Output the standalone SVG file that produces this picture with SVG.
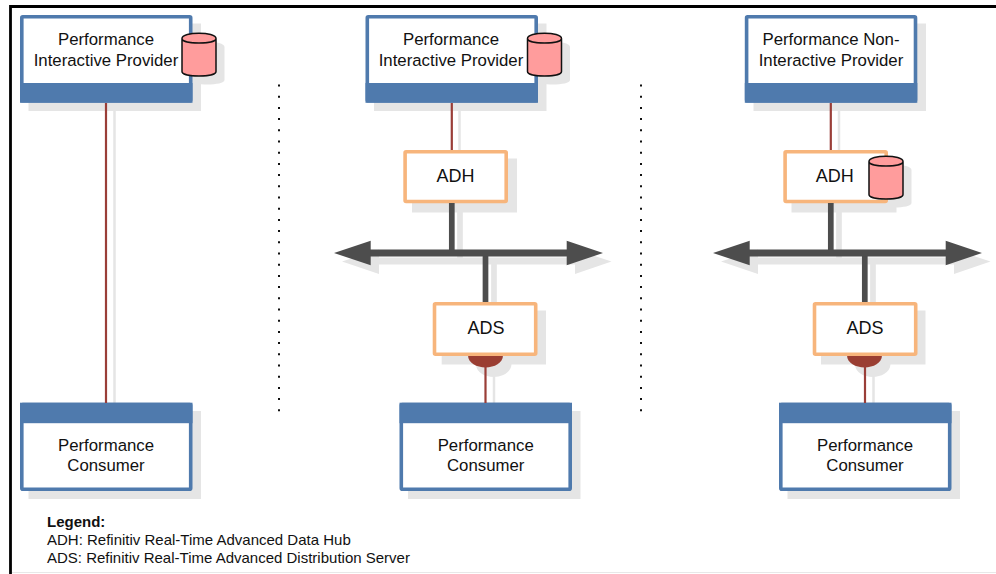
<svg xmlns="http://www.w3.org/2000/svg" width="996" height="574" viewBox="0 0 996 574">
<style>
text{font-family:"Liberation Sans",Arial,sans-serif;font-size:16.800px;fill:#111;text-anchor:middle}
.sh{fill:#e5e5e5}
.blue{fill:#fff;stroke:#4f7aad;stroke-width:3.600}
.band{fill:#4f7aad}
.or{fill:#fff;stroke:#f7b57c;stroke-width:3.600}
.thin{stroke:#9a3e38;stroke-width:2.200;fill:none}
.thinsh{stroke:#e5e5e5;stroke-width:2.500;fill:none}
.bus{stroke:#4d4d4d;fill:none}
.bussh{stroke:#e5e5e5;fill:none}
.head{fill:#4d4d4d}
.headsh{fill:#e5e5e5}
.cup{fill:#9a3e32}
.dots{stroke:#111;stroke-width:2;stroke-dasharray:2 9.200;fill:none}
.db{fill:#ff9c9c;stroke:#111;stroke-width:1.500}
.lbl{font-size:18px}
.leg{font-size:15px;text-anchor:start}
</style>
<defs>
<path id="cyl" class="db" d="M-17 -16V17C-17 23 17 23 17 17V-16C17 -23 -17 -23 -17 -16C-17 -10 17 -10 17 -16"/>
<path id="cylsh" d="M-17 -16V17C-17 23 17 23 17 17V-16C17 -23 -17 -23 -17 -16Z"/>
</defs>
<rect width="996" height="574" fill="#fff"/>
<path d="M10.500 574V6.500H996" fill="none" stroke="#000" stroke-width="2.800"/>
<path d="M12 572.500H996" fill="none" stroke="#e8e8e8" stroke-width="1"/>

<g id="connector-shadows">
<path class="thinsh" d="M114.500 103V403M459.500 103V150M839 103V150M494 365V403M873.500 365V403"/>
<path class="bussh" stroke-width="5.700" d="M460 205V261M494 261V302M839 205V261M873 261V302"/>
<path class="bussh" stroke-width="7" d="M379 261H575M758 261H954"/>
<path class="headsh" d="M342 261.500L379 249.500V274ZM611.500 261.500L575 249.500V274ZM721 261.500L758 249.500V274ZM990.500 261.500L954 249.500V274Z"/>
</g>

<g id="provider1">
<rect class="sh" x="28.500" y="23.500" width="172.500" height="87.500"/>
<use href="#cylsh" x="207.500" y="63" fill="#e5e5e5"/>
<rect class="blue" x="21.800" y="16.800" width="168.900" height="84" rx="1"/>
<rect class="band" x="20" y="83" width="172.500" height="19.800"/>
<text x="106" y="45">Performance</text>
<text x="106" y="66">Interactive Provider</text>
<use href="#cyl" x="199" y="54.500"/>
</g>
<g id="provider2">
<rect class="sh" x="374" y="23.500" width="172.500" height="87.500"/>
<use href="#cylsh" x="553" y="63" fill="#e5e5e5"/>
<rect class="blue" x="367.300" y="16.800" width="168.900" height="84" rx="1"/>
<rect class="band" x="365.500" y="83" width="172.500" height="19.800"/>
<text x="451" y="45">Performance</text>
<text x="451" y="66">Interactive Provider</text>
<use href="#cyl" x="544.500" y="54.500"/>
</g>
<g id="provider3">
<rect class="sh" x="753.500" y="23.500" width="172.500" height="87.500"/>
<rect class="blue" x="746.600" y="16.800" width="168.900" height="84" rx="1"/>
<rect class="band" x="744.800" y="83" width="172.500" height="19.800"/>
<text x="831" y="45">Performance Non-</text>
<text x="831" y="66">Interactive Provider</text>
</g>

<g id="adh2">
<rect class="sh" x="412" y="158.500" width="105" height="54"/>
<rect class="or" x="405.100" y="151.800" width="101.100" height="49.700" rx="1"/>
<text class="lbl" x="455.500" y="182">ADH</text>
</g>
<g id="adh3">
<rect class="sh" x="791.500" y="158.500" width="105" height="54"/>
<use href="#cylsh" x="894.500" y="186" fill="#e5e5e5"/>
<rect class="or" x="785.100" y="151.800" width="101.100" height="49.700" rx="1"/>
<text class="lbl" x="834.700" y="182">ADH</text>
<use href="#cyl" x="886" y="177.500"/>
</g>
<g id="ads2">
<path class="sh" d="M441.700 310.500H546V364.500H511.500C510 381 477 381 476 364.500H441.700Z"/>
<path class="cup" d="M468 355H503C503 371.500 468 371.500 468 355Z"/>
<rect class="or" x="434.500" y="303.800" width="101.200" height="50.400" rx="1"/>
<text class="lbl" x="486" y="334">ADS</text>
</g>
<g id="ads3">
<path class="sh" d="M821 310.500H925.500V364.500H890.500C889 381 856 381 855 364.500H821Z"/>
<path class="cup" d="M847 355H882C882 371.500 847 371.500 847 355Z"/>
<rect class="or" x="814.500" y="303.800" width="101.200" height="50.400" rx="1"/>
<text class="lbl" x="865" y="334">ADS</text>
</g>

<g id="consumer1">
<rect class="sh" x="28.500" y="411" width="172.500" height="88"/>
<rect class="blue" x="21.800" y="404.500" width="168.900" height="84.700" rx="1"/>
<rect class="band" x="20" y="402.700" width="172.500" height="20.500"/>
<text x="106" y="450.500">Performance</text>
<text x="106" y="470.500">Consumer</text>
</g>
<g id="consumer2">
<rect class="sh" x="408" y="411" width="172.500" height="88"/>
<rect class="blue" x="401.300" y="404.500" width="168.900" height="84.700" rx="1"/>
<rect class="band" x="399.500" y="402.700" width="172.500" height="20.500"/>
<text x="485.700" y="450.500">Performance</text>
<text x="485.700" y="470.500">Consumer</text>
</g>
<g id="consumer3">
<rect class="sh" x="787.500" y="411" width="172.500" height="88"/>
<rect class="blue" x="780.800" y="404.500" width="168.900" height="84.700" rx="1"/>
<rect class="band" x="779" y="402.700" width="172.500" height="20.500"/>
<text x="865" y="450.500">Performance</text>
<text x="865" y="470.500">Consumer</text>
</g>

<g id="connectors">
<path class="thin" d="M106 103V403M451.800 103V150M830.800 103V150M485.500 366V403M865 366V403"/>
<path class="bus" stroke-width="5.700" d="M451.800 203V253M485.500 253V302M830.800 203V253M864.800 253V302"/>
<path class="bus" stroke-width="7" d="M370 253H567M749 253H946"/>
<path class="head" d="M334 253L370.700 240.700V265.300ZM603 253L566.700 240.700V265.300ZM713 253L749.700 240.700V265.300ZM982 253L945.700 240.700V265.300Z"/>
<path class="dots" d="M279 84.500V412M641 84.500V412"/>
</g>

<g id="legend">
<text class="leg" x="47" y="527" font-weight="bold">Legend:</text>
<text class="leg" x="47" y="544.500">ADH: Refinitiv Real-Time Advanced Data Hub</text>
<text class="leg" x="47" y="562.500">ADS: Refinitiv Real-Time Advanced Distribution Server</text>
</g>
</svg>
